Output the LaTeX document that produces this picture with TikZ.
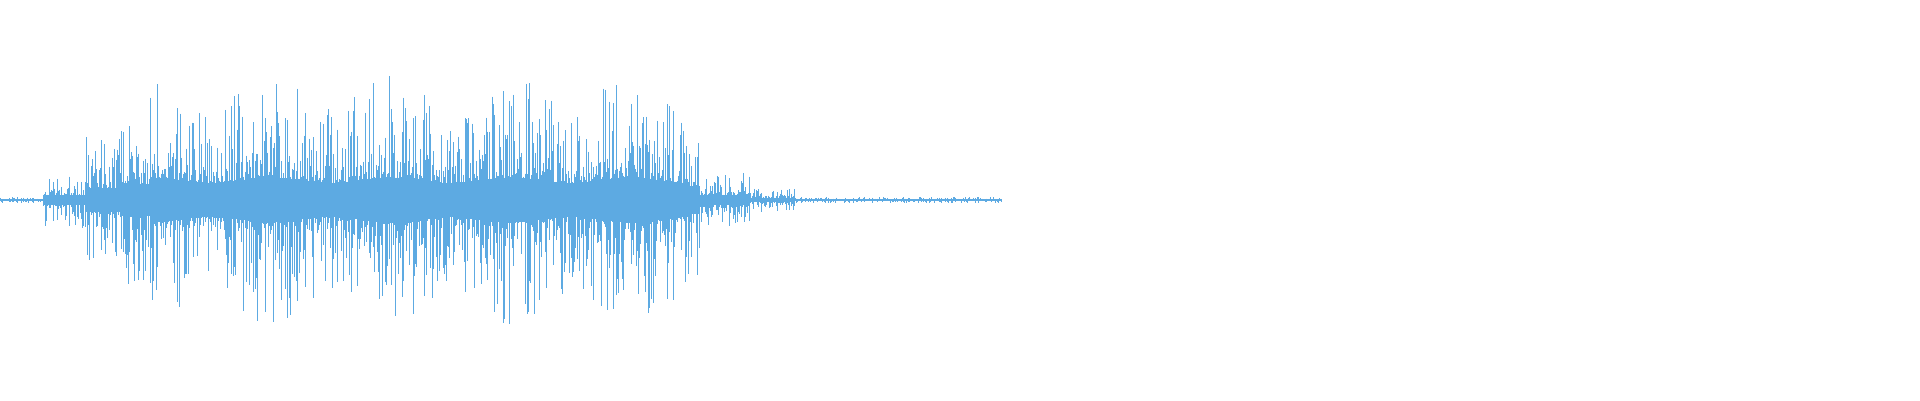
\documentclass[tikz,border=0pt]{standalone}
\definecolor{wave}{RGB}{93,170,226}
\begin{document}
\begin{tikzpicture}[x=1pt,y=1pt,wl/.style={draw=wave,line width=0.45pt}]
\useasboundingbox (0,0) rectangle (1920,400);
\pgfmathsetseed{7}
\foreach \x in {0,0.8,...,1002}{
  \pgfmathsetmacro\env{\x<43?3:(\x<85?28:(\x<120?65:(\x<150?90:(\x<690?(110+15*sin(\x*3)):(\x<700?75:(\x<750?28:(\x<795?12:3)))))))}
  \pgfmathsetmacro\ra{rnd}
  \pgfmathsetmacro\rb{rnd}
  \pgfmathsetmacro\hu{\env*(0.18+0.82*\ra*\ra*\ra)}
  \pgfmathsetmacro\hd{\env*(0.18+0.82*\rb*\rb*\rb)}
  \draw[wl] (\x,200+\hu) -- (\x,200-\hd);
}
\end{tikzpicture}
\end{document}
